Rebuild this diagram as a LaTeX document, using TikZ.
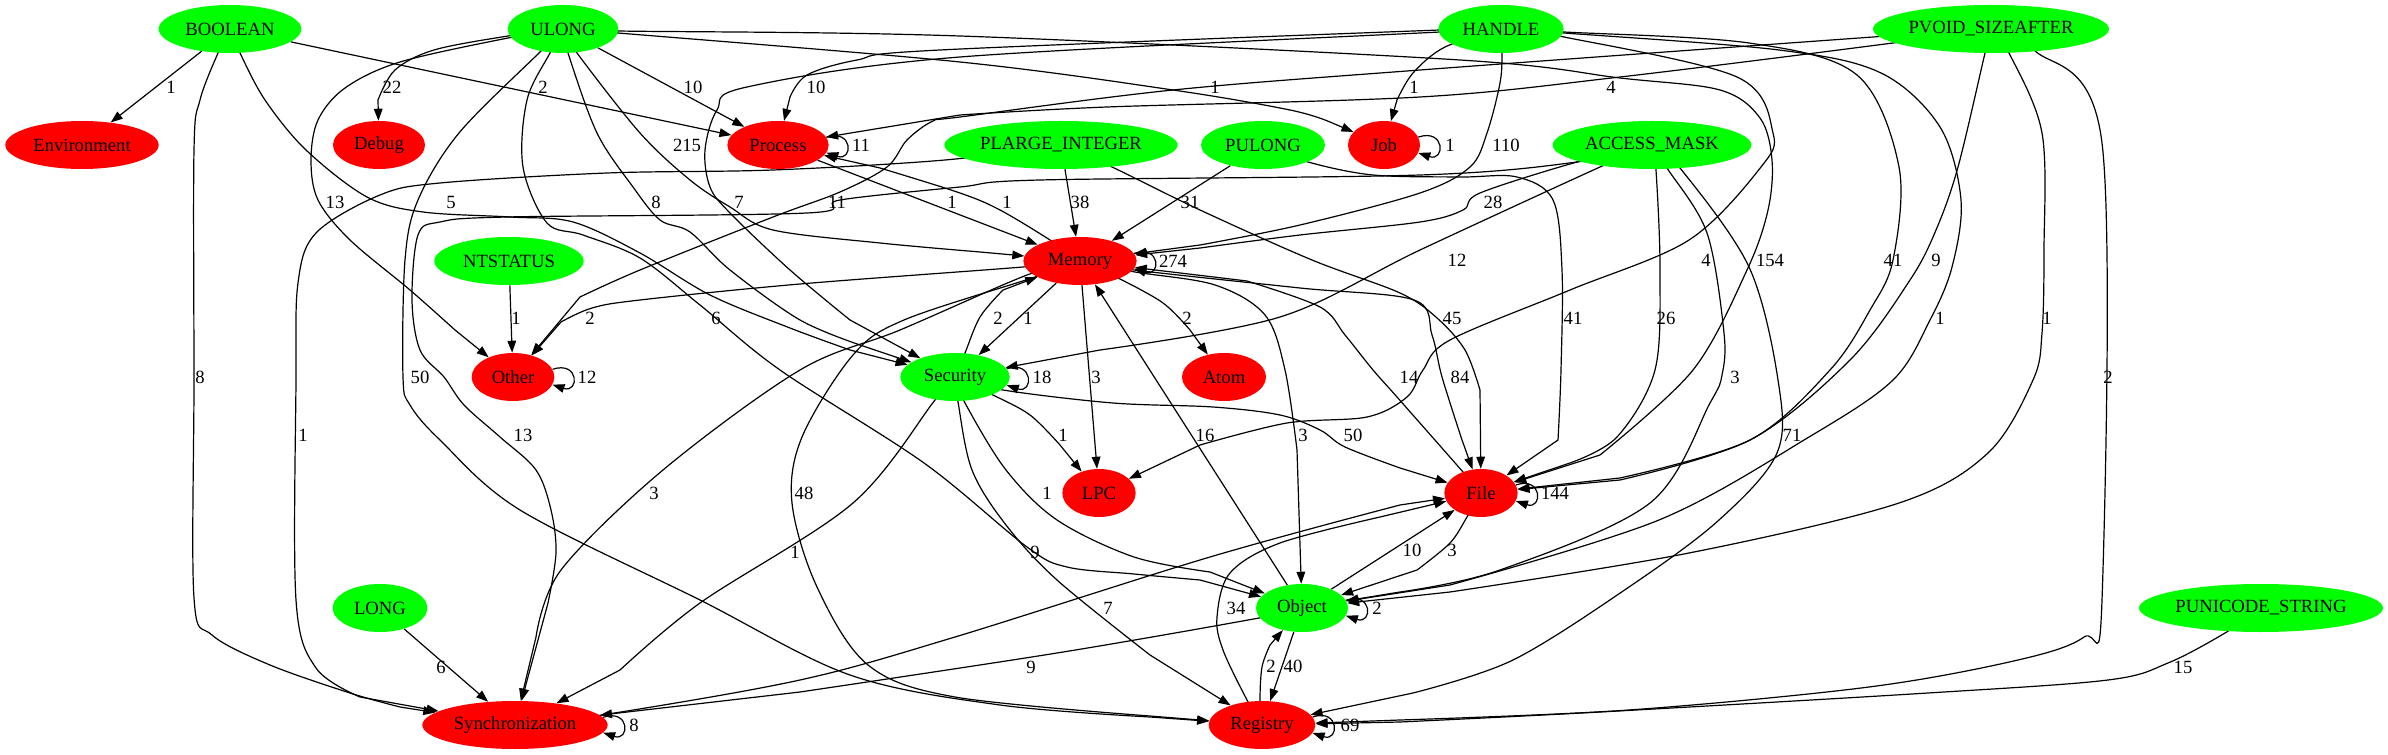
\documentclass[tikz,border=0pt]{standalone}
\usepackage{fontspec}
\setmainfont{Liberation Serif}
\usetikzlibrary{shapes.geometric,arrows.meta}
\pgfdeclarelayer{edgelayer}
\pgfsetlayers{edgelayer,main}
\definecolor{gv}{RGB}{0,255,0}
\definecolor{rv}{RGB}{255,0,0}
\newcommand{\nt}[1]{\makebox[0pt]{#1}}
\newcommand{\cn}[4]{\draw[ed] plot[smooth,tension=.55] coordinates {(#1) #2 #3} #3 -- (#4);}
\newcommand{\lp}[2]{\draw[ed] (#1.#2) .. controls +(27,-9) and +(27,9) .. (#1.-#2);}
\begin{document}
\begin{tikzpicture}[x=0.75pt,y=-0.75pt,
  gn/.style={ellipse,fill=gv,draw=none,inner sep=0pt,minimum height=36pt,font=\fontsize{14}{16}\selectfont},
  rn/.style={ellipse,fill=rv,draw=none,inner sep=0pt,minimum height=36pt,font=\fontsize{14}{16}\selectfont},
  ed/.style={draw=black,line width=0.9pt,-{Triangle[length=9pt,width=6.5pt]}},
  lb/.style={inner sep=0pt,font=\fontsize{14}{16}\selectfont}]
\useasboundingbox (0,0) rectangle (2388,755);
% nodes
\node[gn,minimum width=107pt] (BOOLEAN) at (230,29) {\nt{BOOLEAN}};
\node[gn,minimum width=83pt] (ULONG) at (563,29) {\nt{ULONG}};
\node[gn,minimum width=94pt] (HANDLE) at (1501,29) {\nt{HANDLE}};
\node[gn,minimum width=177pt] (PVOID) at (1991,29) {\nt{PVOID\_SIZEAFTER}};
\node[rn,minimum width=115pt] (Environment) at (82,145) {\nt{Environment}};
\node[rn,minimum width=69pt] (Debug) at (379,145) {\nt{Debug}};
\node[rn,minimum width=76pt] (Process) at (778,145) {\nt{Process}};
\node[gn,minimum width=175pt] (PLARGE) at (1061,145) {\nt{PLARGE\_INTEGER}};
\node[gn,minimum width=93pt] (PULONG) at (1263,145) {\nt{PULONG}};
\node[rn,minimum width=54pt] (Job) at (1384,145) {\nt{Job}};
\node[gn,minimum width=149pt] (AM) at (1652,145) {\nt{ACCESS\_MASK}};
\node[gn,minimum width=112pt] (NTSTATUS) at (509,261) {\nt{NTSTATUS}};
\node[rn,minimum width=85pt] (Memory) at (1080,261) {\nt{Memory}};
\node[rn,minimum width=62pt] (Other) at (513,377) {\nt{Other}};
\node[gn,minimum width=82pt] (Security) at (955,377) {\nt{Security}};
\node[rn,minimum width=63pt] (Atom) at (1224,377) {\nt{Atom}};
\node[rn,minimum width=55pt] (LPC) at (1099,493) {\nt{LPC}};
\node[rn,minimum width=55pt] (File) at (1481,493) {\nt{File}};
\node[gn,minimum width=71pt] (LONG) at (380,608) {\nt{LONG}};
\node[gn,minimum width=69pt] (Object) at (1302,608) {\nt{Object}};
\node[gn,minimum width=183pt] (PUNICODE) at (2261,608) {\nt{PUNICODE\_STRING}};
\node[rn,minimum width=139pt] (Sync) at (515,725) {\nt{Synchronization}};
\node[rn,minimum width=80pt] (Registry) at (1262,725) {\nt{Registry}};
\begin{pgfonlayer}{edgelayer}
% straight edges
\draw[ed] (BOOLEAN) -- (Environment);
\draw[ed] (BOOLEAN) -- (Process);
\draw[ed] (ULONG) -- (Process);
\draw[ed] (PLARGE) -- (Memory);
\draw[ed] (PULONG) -- (Memory);
\draw[ed] (Process) -- (Memory);
\draw[ed] (NTSTATUS) -- (Other);
\draw[ed] (LONG) -- (Sync);
\draw[ed] (Memory) -- (Security);
\draw[ed] (Memory) -- (LPC);
\draw[ed] (Object) -- (Memory);
\draw[ed] (Object) -- (File);
\draw[ed] (Object) -- (Registry);
% BOOLEAN
\cn{BOOLEAN}{(240,53) (265,100) (306,150) (367,197) (423,212) (510,217) (573,222) (640,253) (710,295) (790,328)}{(850,350)}{Security}
\cn{BOOLEAN}{(218,53) (200,100) (194,150) (194,380) (194,598) (212,635) (270,665) (350,693)}{(400,707)}{Sync}
% ULONG
\cn{ULONG}{(508,36) (434,50) (395,70)}{(378,100)}{Debug}
\cn{ULONG}{(508,38) (400,62) (345,88) (318,120) (311,160) (318,200) (350,240) (410,290)}{(455,330)}{Other}
\cn{ULONG}{(618,33) (960,62) (1173,90) (1290,110)}{(1330,122)}{Job}
\cn{ULONG}{(618,31) (960,36) (1460,60) (1620,78) (1720,90) (1760,118) (1772,160) (1768,210) (1747,270) (1693,370)}{(1600,455)}{File}
\cn{ULONG}{(577,53) (640,133) (690,180) (730,207) (773,230) (880,243)}{(980,252)}{Memory}
\cn{ULONG}{(568,53) (597,133) (633,187) (660,220) (690,232) (730,270) (800,320)}{(860,345)}{Security}
\cn{ULONG}{(550,53) (527,100) (523,167) (547,223) (583,235) (640,258) (700,305) (780,370) (924,463) (1027,547) (1067,567) (1134,574)}{(1200,580)}{Object}
\cn{ULONG}{(540,52) (459,133) (418,200) (405,260) (403,377) (410,405) (440,440) (520,510) (700,600) (850,675) (1000,705)}{(1150,717)}{Registry}
% HANDLE
\cn{HANDLE}{(1440,30) (940,50) (857,60) (807,75)}{(790,97)}{Process}
\cn{HANDLE}{(1440,32) (960,57) (747,87) (717,110) (705,150) (710,187) (730,213) (790,270)}{(850,320)}{Security}
\cn{HANDLE}{(1445,47) (1413,73)}{(1397,100)}{Job}
\cn{HANDLE}{(1502,53) (1500,83) (1487,133) (1470,167) (1420,193) (1300,225)}{(1200,245)}{Memory}
\cn{HANDLE}{(1564,37) (1737,77) (1773,133) (1761,167) (1689,240) (1570,290) (1450,340) (1423,370) (1407,397) (1367,417) (1287,423)}{(1200,445)}{LPC}
\cn{HANDLE}{(1564,32) (1749,43) (1857,75) (1899,167) (1893,260) (1870,310) (1830,370) (1750,440)}{(1620,478)}{File}
\cn{HANDLE}{(1564,33) (1779,50) (1881,73) (1940,127) (1961,200) (1952,267) (1930,320) (1893,380) (1809,437) (1659,520)}{(1450,585)}{Object}
% PVOID
\cn{PVOID}{(1893,43) (1620,77) (1420,97) (1107,107)}{(960,115)}{Process}
\cn{PVOID}{(1873,37) (1420,70) (1173,90) (960,117) (933,121) (907,140) (887,167) (840,192) (773,217) (640,270)}{(580,297)}{Other}
\cn{PVOID}{(1985,53) (1958,167) (1936,230) (1910,280) (1850,360) (1750,440)}{(1620,480)}{File}
\cn{PVOID}{(2009,53) (2042,133) (2044,250) (2042,333) (2033,380) (1988,453) (1899,503) (1689,553)}{(1450,592)}{Object}
\cn{PVOID}{(2034,50) (2102,143) (2102,600) (2084,637) (2018,660) (1869,687) (1629,710)}{(1400,720)}{Registry}
% PUNICODE
\cn{PUNICODE}{(2225,633) (2168,663) (2108,680) (1928,693) (1600,712)}{(1400,722)}{Registry}
% PLARGE
\cn{PLARGE}{(1112,167) (1200,210) (1312,260) (1400,293) (1437,318) (1465,350)}{(1480,390)}{File}
\cn{PLARGE}{(945,160) (773,170) (607,173) (440,183) (380,195) (316,233) (298,283) (296,380) (296,600) (316,668)}{(360,697)}{Sync}
% PULONG
\cn{PULONG}{(1308,162) (1373,175) (1460,177) (1517,177) (1553,200) (1562,270) (1561,370)}{(1558,440)}{File}
% ACCESS_MASK
\cn{AM}{(1577,162) (1480,193) (1463,210) (1420,222) (1300,235)}{(1200,248)}{Memory}
\cn{AM}{(1600,167) (1420,250) (1280,317)}{(1100,350)}{Security}
\cn{AM}{(1656,170) (1660,270) (1655,370) (1617,437)}{(1570,463)}{File}
\cn{AM}{(1667,168) (1707,233) (1724,333) (1722,375) (1710,403) (1650,503) (1500,570)}{(1400,592)}{Object}
\cn{AM}{(1680,168) (1749,267) (1778,380) (1777,453) (1719,520) (1629,587) (1513,660)}{(1413,693)}{Registry}
\cn{AM}{(1577,162) (1420,175) (1040,180) (960,187) (840,200) (807,213) (507,217) (440,222) (418,235) (412,300) (420,350) (444,377) (464,405) (500,437) (536,470) (551,510) (556,553)}{(548,603)}{Sync}
% Memory
\cn{Memory}{(1050,240) (1000,210) (960,193)}{(880,168)}{Process}
\cn{Memory}{(1118,278) (1163,303)}{(1190,330)}{Atom}
\cn{Memory}{(1135,272) (1215,285) (1265,315) (1285,370)}{(1297,450)}{Object}
\cn{Memory}{(1134,270) (1300,288) (1414,300) (1432,335) (1442,377)}{(1462,440)}{File}
\cn{Memory}{(1023,267) (800,284) (640,300) (592,308)}{(561,322)}{Other}
\cn{Memory}{(1027,275) (900,330) (800,370) (663,470) (561,570)}{(536,637)}{Sync}
\cn{Memory}{(1032,278) (904,320) (853,355) (802,437) (792,503) (817,587) (868,665) (955,697)}{(1150,716)}{Registry}
% File
\cn{File}{(1463,472) (1397,397) (1373,370) (1345,335) (1320,307)}{(1247,281)}{Memory}
\cn{File}{(1467,517) (1450,543)}{(1417,570)}{Object}
% Security
\cn{Security}{(965,353) (980,317)}{(1003,290)}{Memory}
\cn{Security}{(993,395) (1030,415)}{(1060,445)}{LPC}
\cn{Security}{(1003,390) (1113,403) (1213,407) (1280,415) (1320,430) (1345,447)}{(1400,468)}{File}
\cn{Security}{(965,403) (1006,470) (1057,520) (1134,557)}{(1210,572)}{Object}
\cn{Security}{(958,402) (972,470) (1006,525) (1057,580)}{(1150,655)}{Registry}
\cn{Security}{(935,400) (853,503) (700,603)}{(620,670)}{Sync}
% Object, Registry, Sync
\cn{Object}{(1259,618) (1057,653)}{(800,692)}{Sync}
\cn{Registry}{(1260,700) (1262,667)}{(1270,645)}{Object}
\cn{Sync}{(602,715) (800,680) (955,637) (1210,557)}{(1400,505)}{File}
\cn{Registry}{(1247,700) (1223,650) (1217,617) (1230,573) (1280,543)}{(1380,517)}{File}
% loops
\lp{Process}{9} \lp{Job}{13} \lp{Memory}{8} \lp{Other}{11} \lp{Security}{9}
\lp{File}{13} \lp{Object}{10} \lp{Registry}{9} \lp{Sync}{5}
\end{pgfonlayer}
% labels
\node[lb] (a1) at (171,87) {1};
\node[lb] (a2) at (392,87) {22};
\node[lb] (a3) at (543,87) {2};
\node[lb] (a4) at (693,87) {10};
\node[lb] (a5) at (816,87) {10};
\node[lb] (a6) at (1215,87) {1};
\node[lb] (a7) at (1414,87) {1};
\node[lb] (a8) at (1611,87) {4};
\node[lb] (b1) at (687,145) {215};
\node[lb] (b2) at (861,145) {11};
\node[lb] (b3) at (1450,145) {1};
\node[lb] (b4) at (1506,145) {110};
\node[lb] (c1) at (335,202) {13};
\node[lb] (c2) at (451,202) {5};
\node[lb] (c3) at (656,202) {8};
\node[lb] (c4) at (739,202) {7};
\node[lb] (c5) at (837,202) {11};
\node[lb] (c6) at (952,202) {1};
\node[lb] (c7) at (1007,202) {1};
\node[lb] (c8) at (1080,202) {38};
\node[lb] (c9) at (1190,202) {31};
\node[lb] (c10) at (1493,202) {28};
\node[lb] (d1) at (1173,261) {274};
\node[lb] (d2) at (1457,260) {12};
\node[lb] (d3) at (1706,260) {4};
\node[lb] (d4) at (1770,260) {154};
\node[lb] (d5) at (1893,260) {41};
\node[lb] (d6) at (1936,260) {9};
\node[lb] (e1) at (516,318) {1};
\node[lb] (e2) at (590,318) {2};
\node[lb] (e3) at (716,318) {6};
\node[lb] (e4) at (998,318) {2};
\node[lb] (e5) at (1028,318) {1};
\node[lb] (e6) at (1187,318) {2};
\node[lb] (e7) at (1452,318) {45};
\node[lb] (e8) at (1573,318) {41};
\node[lb] (e9) at (1666,318) {26};
\node[lb] (e10) at (1940,318) {1};
\node[lb] (e11) at (2047,318) {1};
\node[lb] (f1) at (200,377) {8};
\node[lb] (f2) at (420,377) {50};
\node[lb] (f3) at (587,377) {12};
\node[lb] (f4) at (1042,377) {18};
\node[lb] (f5) at (1096,377) {3};
\node[lb] (f6) at (1409,377) {14};
\node[lb] (f7) at (1460,377) {84};
\node[lb] (f8) at (1735,377) {3};
\node[lb] (f9) at (2108,377) {2};
\node[lb] (g1) at (303,435) {1};
\node[lb] (g2) at (523,435) {13};
\node[lb] (g3) at (1063,435) {1};
\node[lb] (g4) at (1205,435) {16};
\node[lb] (g5) at (1303,435) {3};
\node[lb] (g6) at (1353,435) {50};
\node[lb] (g7) at (1792,435) {71};
\node[lb] (h1) at (654,493) {3};
\node[lb] (h2) at (804,493) {48};
\node[lb] (h3) at (1047,493) {1};
\node[lb] (h4) at (1555,493) {144};
\node[lb] (i1) at (795,552) {1};
\node[lb] (i2) at (1035,552) {9};
\node[lb] (i3) at (1412,550) {10};
\node[lb] (i4) at (1452,550) {3};
\node[lb] (j1) at (1108,608) {7};
\node[lb] (j2) at (1236,608) {34};
\node[lb] (j3) at (1377,608) {2};
\node[lb] (k1) at (441,667) {6};
\node[lb] (k2) at (1031,667) {9};
\node[lb] (k3) at (1271,666) {2};
\node[lb] (k4) at (1293,666) {40};
\node[lb] (k5) at (2183,667) {15};
\node[lb] (m1) at (634,725) {8};
\node[lb] (m2) at (1350,725) {69};
\end{tikzpicture}
\end{document}
